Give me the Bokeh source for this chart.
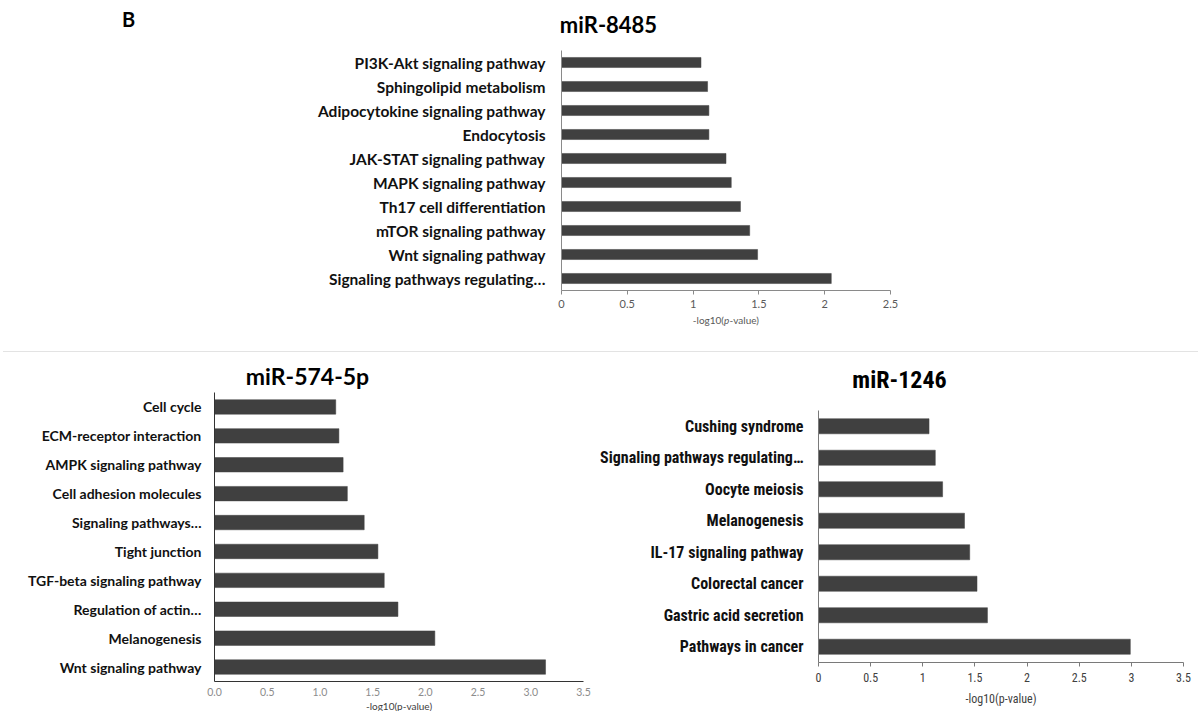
from bokeh.plotting import figure
from bokeh.models import Range1d, FixedTicker, Label, Div, ColumnDataSource
from bokeh.layouts import column, row
from bokeh.embed import file_html
from bokeh.resources import INLINE

# ---- data: KEGG enrichment, -log10(p-value), listed top to bottom ----
terms_8485 = [
    "PI3K-Akt signaling pathway",
    "Sphingolipid metabolism",
    "Adipocytokine signaling pathway",
    "Endocytosis",
    "JAK-STAT signaling pathway",
    "MAPK signaling pathway",
    "Th17 cell differentiation",
    "mTOR signaling pathway",
    "Wnt signaling pathway",
    "Signaling pathways regulating\u2026",
]
vals_8485 = [1.06, 1.11, 1.12, 1.12, 1.25, 1.29, 1.36, 1.43, 1.49, 2.05]
ticks_8485 = [0, 0.5, 1, 1.5, 2, 2.5]
tick_labels_8485 = ["0", "0.5", "1", "1.5", "2", "2.5"]

terms_574 = [
    "Cell cycle",
    "ECM-receptor interaction",
    "AMPK signaling pathway",
    "Cell adhesion molecules",
    "Signaling pathways\u2026",
    "Tight junction",
    "TGF-beta signaling pathway",
    "Regulation of actin\u2026",
    "Melanogenesis",
    "Wnt signaling pathway",
]
vals_574 = [1.15, 1.18, 1.22, 1.26, 1.42, 1.55, 1.61, 1.74, 2.09, 3.14]
ticks_574 = [0, 0.5, 1, 1.5, 2, 2.5, 3, 3.5]
tick_labels_574 = ["0.0", "0.5", "1.0", "1.5", "2.0", "2.5", "3.0", "3.5"]

terms_1246 = [
    "Cushing syndrome",
    "Signaling pathways regulating\u2026",
    "Oocyte meiosis",
    "Melanogenesis",
    "IL-17 signaling pathway",
    "Colorectal cancer",
    "Gastric acid secretion",
    "Pathways in cancer",
]
vals_1246 = [1.06, 1.12, 1.19, 1.40, 1.45, 1.52, 1.62, 2.99]
ticks_1246 = [0, 0.5, 1, 1.5, 2, 2.5, 3, 3.5]
tick_labels_1246 = ["0", "0.5", "1", "1.5", "2", "2.5", "3", "3.5"]

BAR = "#404040"
SANS = "Lato"
NARROW = "Roboto Condensed, DejaVu Sans Condensed, Liberation Sans Narrow, sans-serif"


def bar_panel(terms, vals, ticks, tick_labels, width, height, axes_box,
              bar_height, label_font, label_size, label_style, label_color,
              label_standoff, tick_font, tick_size, tick_color, tick_out,
              tick_standoff, axis_color):
    """Horizontal bar chart whose axes sit inside a full-canvas frame.

    axes_box = (left, right, top, bottom): where the value axis (x) and the
    category axis (y) meet and end, in pixels of this figure.
    """
    left, right, top, bottom = axes_box
    n = len(terms)
    x0, x1 = ticks[0], ticks[-1]
    kx = (right - left) / (x1 - x0)      # px per value unit
    ky = (bottom - top) / n              # px per category slot
    xr = Range1d(x0 - left / kx, x1 + (width - right) / kx)
    yr = Range1d(-(height - bottom) / ky, n + top / ky)

    ypos = [n - i - 0.5 for i in range(n)]   # first term on top
    src = ColumnDataSource(dict(y=ypos, value=vals, term=terms))

    p = figure(width=width, height=height, x_range=xr, y_range=yr,
               output_backend="svg", toolbar_location=None,
               min_border_left=0, min_border_right=0,
               min_border_top=0, min_border_bottom=0)
    p.hbar(y="y", left=0, right="value", height=bar_height, source=src,
           fill_color=BAR, line_color=BAR, line_width=0.5)
    p.xgrid.visible = False
    p.ygrid.visible = False
    p.outline_line_color = None
    p.background_fill_color = "white"
    p.border_fill_color = "white"

    xa = p.xaxis[0]
    xa.fixed_location = 0
    xa.bounds = (x0, x1)
    xa.ticker = FixedTicker(ticks=ticks)
    xa.major_label_overrides = {t: s for t, s in zip(ticks, tick_labels)}
    xa.minor_tick_line_color = None
    xa.major_tick_in = 0
    xa.major_tick_out = tick_out
    xa.major_tick_line_color = axis_color
    xa.axis_line_color = axis_color
    xa.major_label_standoff = tick_standoff
    xa.major_label_text_font = tick_font
    xa.major_label_text_font_size = tick_size
    xa.major_label_text_color = tick_color

    ya = p.yaxis[0]
    ya.fixed_location = x0
    ya.bounds = (0, n)
    ya.ticker = FixedTicker(ticks=ypos)
    ya.major_label_overrides = {y: t for y, t in zip(ypos, terms)}
    ya.major_tick_in = 0
    ya.major_tick_out = 0
    ya.minor_tick_line_color = None
    ya.axis_line_color = axis_color
    ya.major_label_standoff = label_standoff
    ya.major_label_text_font = label_font
    ya.major_label_text_font_size = label_size
    ya.major_label_text_font_style = label_style
    ya.major_label_text_color = label_color

    def at(px, py):
        # figure pixel position -> data coordinates of this panel
        return x0 + (px - left) / kx, (bottom - py) / ky

    return p, at


def add_text(p, xy, text, font, size, style="normal", color="black",
             align="center", x_offset=0):
    p.add_layout(Label(x=xy[0], y=xy[1], text=text, text_font=font,
                       text_font_size=size, text_font_style=style,
                       text_color=color, text_align=align,
                       text_baseline="middle", x_offset=x_offset))


# ---- top panel: miR-8485 ----
top, at_top = bar_panel(
    terms_8485, vals_8485, ticks_8485, tick_labels_8485,
    width=1198, height=351, axes_box=(561, 890, 50, 290), bar_height=0.42,
    label_font=SANS, label_size="15.5px", label_style="bold",
    label_color="#111111", label_standoff=16,
    tick_font=SANS, tick_size="11px", tick_color="#595959",
    tick_out=4, tick_standoff=5, axis_color="#8a8a8a")
add_text(top, at_top(128, 18), "B", SANS, "20px", "bold")
add_text(top, at_top(608, 24), "miR-8485", SANS, "22px", "bold")
xl = at_top(725.5, 319)
add_text(top, xl, "-log10(", SANS, "10px", color="#595959",
         align="right", x_offset=-2)
add_text(top, xl, "p", SANS, "10px", "italic", "#595959",
         align="left", x_offset=-2)
add_text(top, xl, "-value)", SANS, "10px", color="#595959",
         align="left", x_offset=3.6)

# ---- bottom left: miR-574-5p ----
bl, at_bl = bar_panel(
    terms_574, vals_574, ticks_574, tick_labels_574,
    width=596, height=359, axes_box=(214, 583, 40, 329), bar_height=0.5,
    label_font=SANS, label_size="14px", label_style="bold",
    label_color="#111111", label_standoff=13,
    tick_font=SANS, tick_size="10.5px", tick_color="#8c8c8c",
    tick_out=0, tick_standoff=6, axis_color="#333333")
add_text(bl, at_bl(307, 23), "miR-574-5p", SANS, "23px", "bold")
add_text(bl, at_bl(398.5, 353.5), "-log10(p-value)", SANS, "10px",
         color="#404040")

# ---- bottom right: miR-1246 ----
br, at_br = bar_panel(
    terms_1246, vals_1246, ticks_1246, tick_labels_1246,
    width=602, height=359, axes_box=(222, 587, 58, 310), bar_height=0.48,
    label_font=NARROW, label_size="16px", label_style="bold",
    label_color="#111111", label_standoff=15,
    tick_font=NARROW, tick_size="12px", tick_color="#404040",
    tick_out=4, tick_standoff=6, axis_color="#7a7a7a")
add_text(br, at_br(303, 27), "miR-1246", NARROW, "24px", "bold")
add_text(br, at_br(404.5, 346), "-log10(p-value)", NARROW, "12px",
         color="#404040")

sep = Div(text="", width=1195, height=1, margin=(0, 0, 0, 3),
          styles={"background-color": "#e3e3e3"})

layout = column(top, sep, row(bl, br, spacing=0), spacing=0)

with open("out.html", "w") as f:
    f.write(file_html(layout, INLINE))
